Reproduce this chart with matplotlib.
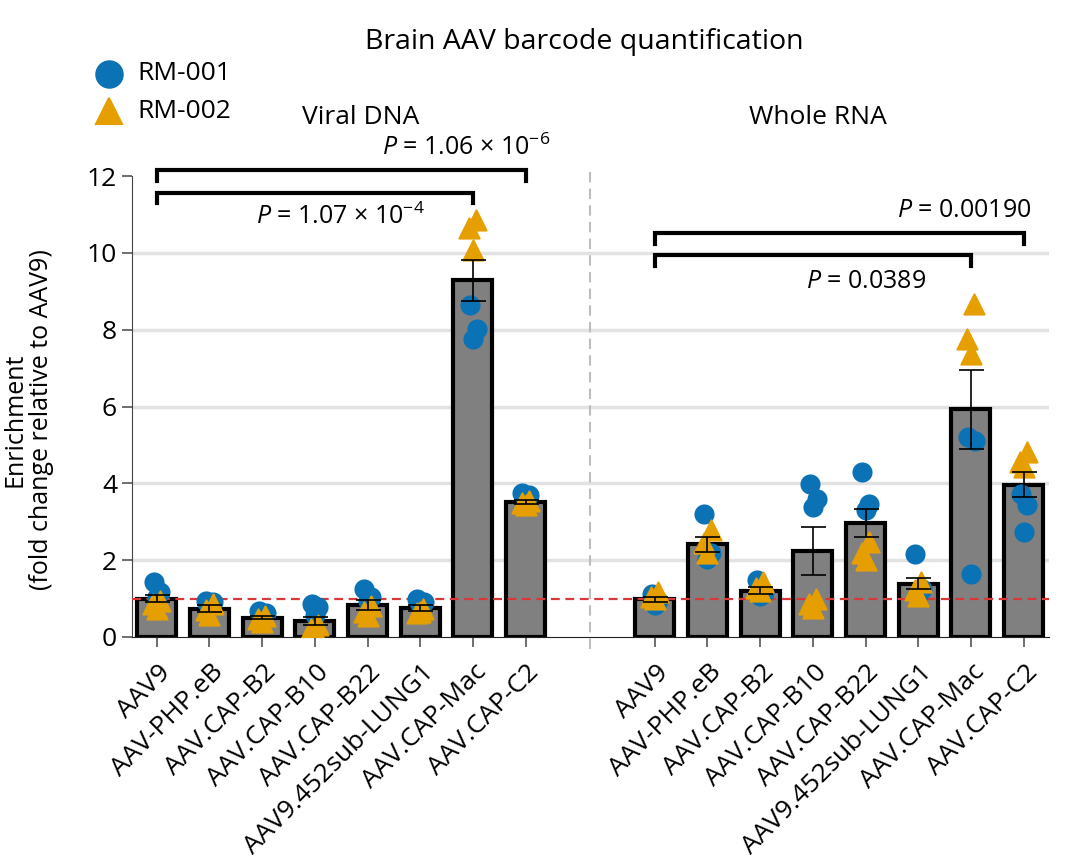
import numpy as np
import matplotlib
matplotlib.use('Agg')
import matplotlib.pyplot as plt
import matplotlib.transforms as mtransforms
from matplotlib.lines import Line2D

plt.rcParams['font.family'] = ['Open Sans', 'DejaVu Sans']
plt.rcParams['mathtext.fontset'] = 'custom'
plt.rcParams['mathtext.rm'] = 'Open Sans'
plt.rcParams['mathtext.it'] = 'Open Sans:italic'

# --- data ---
groups = ['AAV9', 'AAV-PHP.eB', 'AAV.CAP-B2', 'AAV.CAP-B10', 'AAV.CAP-B22',
          'AAV9.452sub-LUNG1', 'AAV.CAP-Mac', 'AAV.CAP-C2']

dna_mean = [1.00, 0.74, 0.50, 0.41, 0.84, 0.76, 9.29, 3.52]
dna_sem = [0.10, 0.10, 0.04, 0.10, 0.13, 0.08, 0.54, 0.05]
dna_rm001 = [[1.43, 1.17, 1.05], [0.95, 0.90, 0.80], [0.69, 0.62, 0.55], [0.87, 0.78, 0.56],
             [1.26, 1.05, 0.95], [0.98, 0.92, 0.85], [8.64, 8.03, 7.77], [3.74, 3.70, 3.65]]
dna_rm002 = [[0.95, 0.85, 0.72], [0.85, 0.70, 0.58], [0.55, 0.47, 0.40], [0.32, 0.22, 0.15],
             [0.80, 0.65, 0.55], [0.72, 0.62, 0.66], [10.85, 10.64, 10.07], [3.55, 3.50, 3.45]]

rna_mean = [0.98, 2.41, 1.20, 2.24, 2.97, 1.39, 5.93, 3.97]
rna_sem = [0.06, 0.19, 0.09, 0.63, 0.36, 0.14, 1.03, 0.33]
rna_rm001 = [[1.13, 0.95, 0.83], [3.21, 2.18, 2.04], [1.48, 1.15, 1.08], [3.99, 3.60, 3.39],
             [4.30, 3.47, 3.30], [2.17, 1.25, 1.10], [5.21, 5.10, 1.65], [3.73, 3.45, 2.73]]
rna_rm002 = [[1.16, 1.05, 1.00], [2.78, 2.45, 2.20], [1.42, 1.27, 1.20], [1.00, 0.85, 0.75],
             [2.47, 2.20, 2.00], [1.42, 1.22, 1.08], [8.68, 7.77, 7.38], [4.82, 4.55, 4.42]]

dna_pvals = ['$P$ = 1.07 × 10$^{-4}$', '$P$ = 1.06 × 10$^{-6}$']
rna_pvals = ['$P$ = 0.0389', '$P$ = 0.00190']

# --- style ---
blue = '#0a72b5'
orange = '#e69f00'
jit = [-0.06, 0.07, 0.0]
gap = 9.45
W, H = 1068, 864

x_dna = np.arange(len(groups))
x_rna = np.arange(len(groups)) + gap

fig = plt.figure(figsize=(W / 100, H / 100), dpi=100)
ax = fig.add_axes([131.7 / W, 1 - 637 / H, (1049 - 131.7) / W, 492 / H])
ax.set_xlim(-0.474, 16.93)
ax.set_ylim(0, 492 / 38.4)

for y in [2, 4, 6, 8, 10]:
    ax.axhline(y, color='#e2e2e2', lw=2.5, zorder=0)

def panel(xs, mean, sem, r1, r2):
    ax.bar(xs, mean, width=0.74, color='#808080', edgecolor='black', linewidth=3, zorder=2)
    for i, x in enumerate(xs):
        ax.scatter(x + np.array(jit), r1[i], s=210, color=blue, zorder=4, linewidths=0)
        ax.scatter(x - np.array(jit), r2[i], s=210, marker='^', color=orange, zorder=5,
                   edgecolors=orange, linewidths=1.5)
    ax.errorbar(xs, mean, yerr=sem, fmt='none', ecolor='black', elinewidth=1.2,
                capsize=9, capthick=1.2, zorder=6)

panel(x_dna, dna_mean, dna_sem, dna_rm001, dna_rm002)
panel(x_rna, rna_mean, rna_sem, rna_rm001, rna_rm002)

ax.axhline(1, color='#d8383a', ls=(0, (4, 2.5)), lw=1.6, zorder=3)
ax.plot([gap / 2 + 3.5, gap / 2 + 3.5], [-0.3, 12.15], color='#bdbdbd', lw=1.5,
        ls=(0, (5, 3)), clip_on=False, zorder=1)

def bracket(x0, x1, y, drop):
    ax.plot([x0, x0, x1, x1], [y - drop, y, y, y - drop], color='black', lw=3,
            clip_on=False, solid_joinstyle='miter', zorder=7)

bracket(x_dna[0], x_dna[7], 12.15, 0.27)
bracket(x_dna[0], x_dna[6], 11.57, 0.27)
bracket(x_rna[0], x_rna[7], 10.53, 0.29)
bracket(x_rna[0], x_rna[6], 9.96, 0.30)

ax.text(3.49, 10.94, dna_pvals[0], ha='center', va='center', fontsize=18)
ax.text(5.87, 12.73, dna_pvals[1], ha='center', va='center', fontsize=18)
ax.text(13.46, 9.25, rna_pvals[0], ha='center', va='center', fontsize=18)
ax.text(15.33, 11.11, rna_pvals[1], ha='center', va='center', fontsize=18)

for s in ['top', 'right']:
    ax.spines[s].set_visible(False)
ax.spines['left'].set_bounds(0, 12)
ax.spines['left'].set_color('#444444')
ax.spines['bottom'].set_color('#222222')
ax.set_yticks(range(0, 13, 2))
ax.set_xticks(np.concatenate([x_dna, x_rna]))
ax.set_xticklabels(groups + groups, rotation=45, ha='right', va='top',
                   rotation_mode='anchor')
ax.tick_params(axis='both', length=7, color='#555555', width=1.2, labelsize=19)
ax.tick_params(axis='x', pad=0, labelsize=19)
shift = mtransforms.ScaledTranslation(0.01, -0.13, fig.dpi_scale_trans)
for lab in ax.get_xticklabels():
    lab.set_transform(lab.get_transform() + shift)

fig.text(584 / W, 1 - 42 / H, 'Brain AAV barcode quantification', ha='center',
         va='center', fontsize=20.5)
fig.text(361 / W, 1 - 117 / H, 'Viral DNA', ha='center', va='center', fontsize=19)
fig.text(818 / W, 1 - 117 / H, 'Whole RNA', ha='center', va='center', fontsize=19)
fig.text(28 / W, 1 - 420 / H, 'Enrichment\n(fold change relative to AAV9)',
         rotation=90, ha='center', va='center', fontsize=18, linespacing=1.1)

# legend
fig.add_artist(Line2D([109 / W], [1 - 74 / H], marker='o', ls='none', color=blue,
                      markersize=19.5, transform=fig.transFigure))
fig.add_artist(Line2D([109 / W], [1 - 111 / H], marker='^', ls='none', color=orange,
                      markersize=19, markeredgewidth=1.5, transform=fig.transFigure))
fig.text(137 / W, 1 - 74 / H, 'RM-001', ha='left', va='center', fontsize=19)
fig.text(137 / W, 1 - 111 / H, 'RM-002', ha='left', va='center', fontsize=19)

fig.savefig('out.png', dpi=100)
